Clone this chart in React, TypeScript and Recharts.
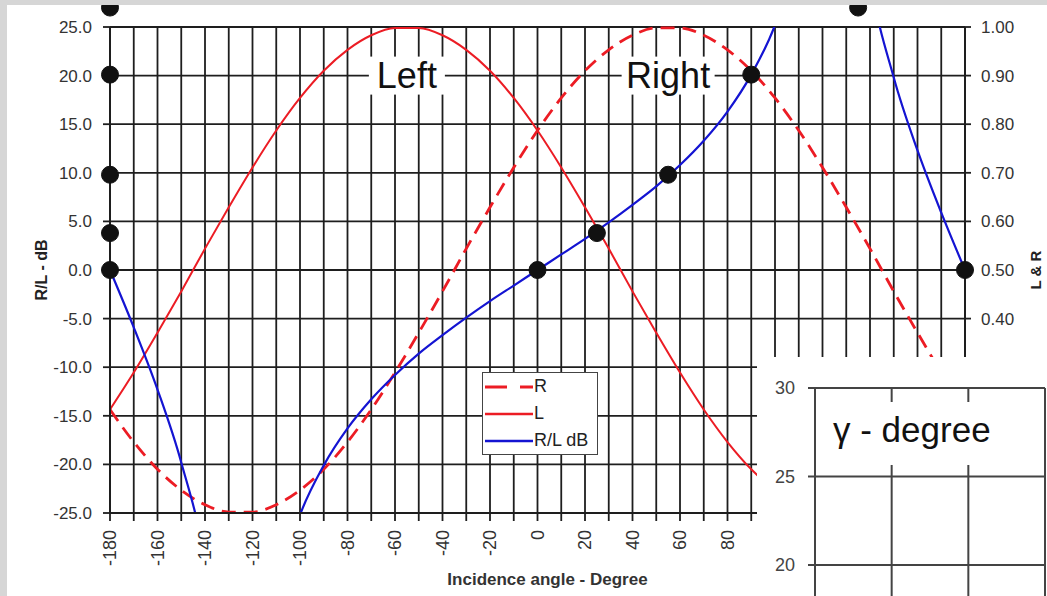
import React from "react"
import { CartesianGrid, Legend, Line, LineChart, ReferenceDot, XAxis, YAxis } from "recharts"

// incidence angle, degrees
const angles = [
  -180, -170, -160, -150, -140, -130, -120, -110, -100, -90, -80, -70, -60, -50, -40, -30, -20, -10,
  0, 10, 20, 30, 40, 50, 60, 70, 80, 90, 100, 110, 120, 130, 140, 150, 160, 170, 180,
]
// R level (right axis, 0..1)
const rLevel = [
  0.213, 0.146, 0.09, 0.047, 0.017, 0.002, 0.002, 0.017, 0.047, 0.09, 0.146, 0.213, 0.289, 0.371, 0.456, 0.544, 0.629, 0.711,
  0.787, 0.854, 0.91, 0.953, 0.983, 0.998, 0.998, 0.983, 0.953, 0.91, 0.854, 0.787, 0.711, 0.629, 0.544, 0.456, 0.371, 0.289, 0.213,
]
// L level (right axis, 0..1)
const lLevel = [
  0.213, 0.289, 0.371, 0.456, 0.544, 0.629, 0.711, 0.787, 0.854, 0.91, 0.953, 0.983, 0.998, 0.998, 0.983, 0.953, 0.91, 0.854,
  0.787, 0.711, 0.629, 0.544, 0.456, 0.371, 0.289, 0.213, 0.146, 0.09, 0.047, 0.017, 0.002, 0.002, 0.017, 0.047, 0.09, 0.146, 0.213,
]
// R/L in dB (left axis)
const ratioDb = [
  0, -5.9, -12.3, -19.8, -30.1, -50.4, -51.5, -33.3, -25.2, -20.1, -16.3, -13.3, -10.8, -8.6, -6.7, -4.9, -3.2, -1.6,
  0, 1.6, 3.2, 4.9, 6.7, 8.6, 10.8, 13.3, 16.3, 20.1, 25.2, 33.3, 51.5, 50.4, 30.1, 19.8, 12.3, 5.9, 0,
]

const angleTicks = [
  -180, -170, -160, -150, -140, -130, -120, -110, -100, -90, -80, -70, -60, -50, -40, -30, -20, -10,
  0, 10, 20, 30, 40, 50, 60, 70, 80, 90, 100, 110, 120, 130, 140, 150, 160, 170, 180,
]
const dbTicks = [-25, -20, -15, -10, -5, 0, 5, 10, 15, 20, 25]
const levelTicks = [0, 0.1, 0.2, 0.3, 0.4, 0.5, 0.6, 0.7, 0.8, 0.9, 1]

// black marker dots
const markerAngles = [-180, -180, -180, -180, -180, 0, 25, 55, 90, 135, 180]
const markerDb = [27, 20.1, 9.8, 3.8, 0, 0, 3.8, 9.8, 20.1, 27, 0]

// text tags on the curves
const tagNames = ["Left", "Right"]
const tagAngles = [-55, 55]
const tagDb = [20, 20]

// inset chart (gamma), only its top-left corner is in the picture
const gammaTicks = [20, 25, 30]
const gammaCols = [0, 1, 2, 3]
// its curve runs below the cropped edge, so these only keep the axis alive
const gammaValues = [12, 12, 12, 12]

const FONT = "'Liberation Sans', Arial, sans-serif"
const RED = "#ec1c24"
const BLUE = "#1414d2"
const GRID = "#1e1e1e"

const data = angles.map((a, i) => ({ angle: a, R: rLevel[i], L: lLevel[i], RL: ratioDb[i] }))
const gammaData = gammaCols.map((c, i) => ({ col: c, gamma: gammaValues[i] }))

const AngleTick = (props: any) => {
  const { x, y, payload } = props
  if (payload.value % 20 !== 0) return <g />
  return (
    <text
      x={0}
      y={0}
      transform={`translate(${x},${y}) rotate(-90)`}
      textAnchor="end"
      dominantBaseline="central"
      fontSize={18}
      fill="#333"
      fontFamily={FONT}
    >
      {payload.value}
    </text>
  )
}

const tagShape = (text: string) => (p: any) => {
  const w = text.length * 17 + 8
  return (
    <g>
      <rect x={p.cx - w / 2} y={p.cy - 19} width={w} height={38} fill="#fff" />
      <text x={p.cx} y={p.cy + 12} textAnchor="middle" fontSize={36} fill="#111" fontFamily={FONT}>
        {text}
      </text>
    </g>
  )
}

const legendRows = [
  { name: "R", color: RED, dash: "22 13", width: 2.8 },
  { name: "L", color: RED, dash: undefined, width: 2.5 },
  { name: "R/L dB", color: BLUE, dash: undefined, width: 2.5 },
]

const LegendBox = () => (
  <div
    style={{
      width: 116,
      height: 83,
      boxSizing: "border-box",
      border: "1.5px solid #444",
      background: "#fff",
      paddingLeft: 2,
      fontFamily: FONT,
    }}
  >
    {legendRows.map((r) => (
      <div key={r.name} style={{ height: 27, display: "flex", alignItems: "center" }}>
        <svg width={48} height={10}>
          <line x1={0} y1={5} x2={48} y2={5} stroke={r.color} strokeWidth={r.width} strokeDasharray={r.dash} />
        </svg>
        <span style={{ fontSize: 18, color: "#222", marginLeft: 1 }}>{r.name}</span>
      </div>
    ))}
  </div>
)

const GammaTag = (p: any) => (
  <g>
    <rect x={p.cx - 12} y={p.cy - 40} width={172} height={63} fill="#fff" />
    <text x={p.cx} y={p.cy} fontSize={35} fill="#111" fontFamily={FONT}>
      γ - degree
    </text>
  </g>
)

export default function App() {
  return (
    <div style={{ position: "absolute", left: 0, top: 0, width: 1047, height: 596, background: "#d6d6d6", overflow: "hidden" }}>
      <div style={{ position: "absolute", left: 7, top: 5, width: 1040, height: 591, background: "#fff" }}>
        <LineChart width={1040} height={591} data={data} margin={{ top: 22, right: 0, bottom: 0, left: 0 }}>
          <CartesianGrid stroke={GRID} strokeWidth={1.8} yAxisId="db" />
          <XAxis
            dataKey="angle"
            type="number"
            domain={[-180, 180]}
            ticks={angleTicks}
            interval={0}
            height={83}
            tick={<AngleTick />}
            tickSize={8}
            tickMargin={9}
            stroke={GRID}
            axisLine={{ stroke: GRID, strokeWidth: 2 }}
            tickLine={{ stroke: GRID, strokeWidth: 1.8 }}
            label={{
              value: "Incidence angle - Degree",
              position: "insideBottom",
              offset: 11,
              dx: 10,
              fontSize: 17,
              fontWeight: "bold",
              fill: "#333",
              style: { fontFamily: FONT, fontWeight: "bold" },
            }}
          />
          <YAxis
            yAxisId="db"
            orientation="left"
            type="number"
            domain={[-25, 25]}
            ticks={dbTicks}
            interval={0}
            allowDataOverflow
            width={103}
            tickSize={7}
            tickMargin={11}
            tickFormatter={(v: number) => v.toFixed(1)}
            tick={{ fontSize: 17, fill: "#333", fontFamily: FONT }}
            axisLine={{ stroke: GRID, strokeWidth: 2 }}
            tickLine={{ stroke: GRID, strokeWidth: 1.8 }}
            label={{
              value: "R/L - dB",
              angle: -90,
              position: "insideLeft",
              offset: 34,
              fontSize: 16,
              fill: "#222",
              style: { textAnchor: "middle", fontFamily: FONT, fontWeight: "bold" },
            }}
          />
          <YAxis
            yAxisId="level"
            orientation="right"
            type="number"
            domain={[0, 1]}
            ticks={levelTicks}
            interval={0}
            width={82}
            tickSize={6}
            tickMargin={10}
            tickFormatter={(v: number) => v.toFixed(2)}
            tick={{ fontSize: 17, fill: "#333", fontFamily: FONT }}
            axisLine={{ stroke: GRID, strokeWidth: 2 }}
            tickLine={{ stroke: GRID, strokeWidth: 1.8 }}
            label={{
              value: "L & R",
              angle: -90,
              position: "insideRight",
              offset: 11,
              fontSize: 15,
              fill: "#222",
              style: { textAnchor: "middle", fontFamily: FONT, fontWeight: "bold" },
            }}
          />
          <Legend
            verticalAlign="middle"
            align="center"
            layout="vertical"
            wrapperStyle={{ left: 475, top: 367, width: 116, height: 83 }}
            content={() => <LegendBox />}
          />
          {tagNames.map((t, i) => (
            <ReferenceDot
              key={t}
              yAxisId="db"
              x={tagAngles[i]}
              y={tagDb[i]}
              r={1}
              ifOverflow="visible"
              shape={tagShape(t)}
            />
          ))}
          <Line
            yAxisId="level"
            type="monotone"
            dataKey="R"
            name="R"
            stroke={RED}
            strokeWidth={2.8}
            strokeDasharray="14 8"
            dot={false}
            isAnimationActive={false}
          />
          <Line
            yAxisId="level"
            type="monotone"
            dataKey="L"
            name="L"
            stroke={RED}
            strokeWidth={2}
            dot={false}
            isAnimationActive={false}
          />
          <Line
            yAxisId="db"
            type="monotone"
            dataKey="RL"
            name="R/L dB"
            stroke={BLUE}
            strokeWidth={2.2}
            dot={false}
            isAnimationActive={false}
          />
          {markerAngles.map((a, i) => (
            <ReferenceDot
              key={i}
              yAxisId="db"
              x={a}
              y={markerDb[i]}
              r={8.5}
              fill="#111"
              stroke="#111"
              ifOverflow="visible"
            />
          ))}
        </LineChart>
      </div>
      <div style={{ position: "absolute", left: 757, top: 357, width: 290, height: 239, background: "#fff", overflow: "hidden" }}>
        <LineChart width={290} height={390} data={gammaData} margin={{ top: 31, right: 2, bottom: 5, left: 0 }}>
          <CartesianGrid stroke="#444" strokeWidth={2} />
          <XAxis dataKey="col" type="number" domain={[0, 3]} ticks={gammaCols} interval={0} hide />
          <YAxis
            type="number"
            domain={[10, 30]}
            ticks={gammaTicks}
            interval={0}
            width={58}
            tickSize={7}
            tickMargin={13}
            tick={{ fontSize: 18, fill: "#444", fontFamily: FONT }}
            axisLine={{ stroke: "#444", strokeWidth: 2 }}
            tickLine={{ stroke: "#444", strokeWidth: 2 }}
          />
          <Line dataKey="gamma" stroke="#111" strokeWidth={2} dot={false} isAnimationActive={false} />
          <ReferenceDot x={0.235} y={26.95} r={1} ifOverflow="visible" shape={GammaTag} />
        </LineChart>
      </div>
    </div>
  )
}
